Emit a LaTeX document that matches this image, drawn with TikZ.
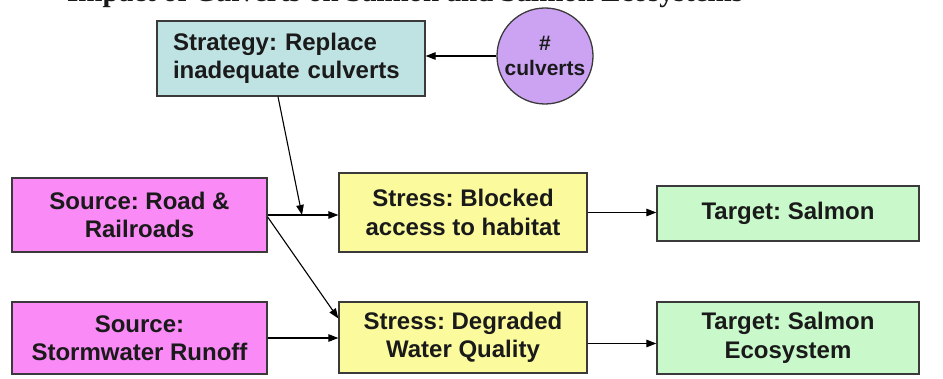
\documentclass[tikz,border=0pt]{standalone}
\usepackage{fontspec}
\setmainfont{Liberation Sans}
\newfontfamily\titlefont{Liberation Serif}
\usetikzlibrary{arrows.meta}
\frenchspacing
\definecolor{stratfill}{HTML}{BFE2E3}
\definecolor{factorfill}{HTML}{CBA3F2}
\definecolor{sourcefill}{HTML}{F98AF6}
\definecolor{stressfill}{HTML}{FBFB9E}
\definecolor{targetfill}{HTML}{C9F8CA}
\definecolor{edgecol}{HTML}{3A3A3A}
\definecolor{ink}{HTML}{1A1A1A}
\begin{document}
\begin{tikzpicture}[x=1pt,y=-1pt,
  box/.style={draw=edgecol, line width=1.3pt, rectangle, inner sep=0pt,
    font=\fontsize{24}{28.5}\selectfont\bfseries, text=ink, align=center},
  conn/.style={draw=black, line width=1.1pt, -{Triangle[length=10pt,width=7.5pt]}},
]
\useasboundingbox (0,0) rectangle (943,379);
\clip (0,0) rectangle (943,379);
\node[anchor=base west, inner sep=0pt, text=ink,
  font=\titlefont\fontsize{29}{29}\selectfont\bfseries\frenchspacing] (title) at (67,1.5)
  {Impact of Culverts on Salmon and Salmon Ecosystems};

\node[box, fill=stratfill, minimum width=268pt, minimum height=75pt,
  inner xsep=16pt, text width=236pt, align=left] (strat) at (291,58.5)
  {Strategy: Replace\\inadequate culverts};
\node[draw=edgecol, line width=1.3pt, circle, fill=factorfill, minimum size=96pt,
  inner sep=0pt, align=center, text=ink,
  font=\fontsize{21}{25}\selectfont\bfseries] (factor) at (545,56) {\#\\culverts};

\node[box, fill=sourcefill, minimum width=255pt, minimum height=74pt] (road) at (139.5,215)
  {Source: Road \&\\Railroads};
\node[box, fill=sourcefill, minimum width=255pt, minimum height=72pt] (storm) at (139.5,338)
  {Source:\\Stormwater Runoff};

\node[box, fill=stressfill, minimum width=248pt, minimum height=79pt] (blocked) at (463,212.5)
  {Stress: Blocked\\access to habitat};
\node[box, fill=stressfill, minimum width=248pt, minimum height=71pt] (degraded) at (463,337.5)
  {Stress: Degraded\\Water Quality};

\node[box, fill=targetfill, minimum width=262pt, minimum height=55pt] (tsalmon) at (788,213.5)
  {Target: Salmon};
\node[box, fill=targetfill, minimum width=262pt, minimum height=72pt] (teco) at (788,338)
  {Target: Salmon\\Ecosystem};

\coordinate (junction) at (302,215);

\draw[conn] (factor.west) -- (factor.west -| strat.east);
\draw[conn] ([xshift=-13pt]strat.south) -- (junction);
\draw[conn] (road.east) -- (road.east -| blocked.west);
\draw[conn] ([yshift=-2pt]road.east) -- ([yshift=19pt]degraded.west);
\draw[conn] (storm.east) -- (storm.east -| degraded.west);
\draw[conn] (blocked.east) -- (blocked.east -| tsalmon.west);
\draw[conn] ([yshift=-6pt]degraded.east) -- ([yshift=-6pt]degraded.east -| teco.west);
\end{tikzpicture}
\end{document}
